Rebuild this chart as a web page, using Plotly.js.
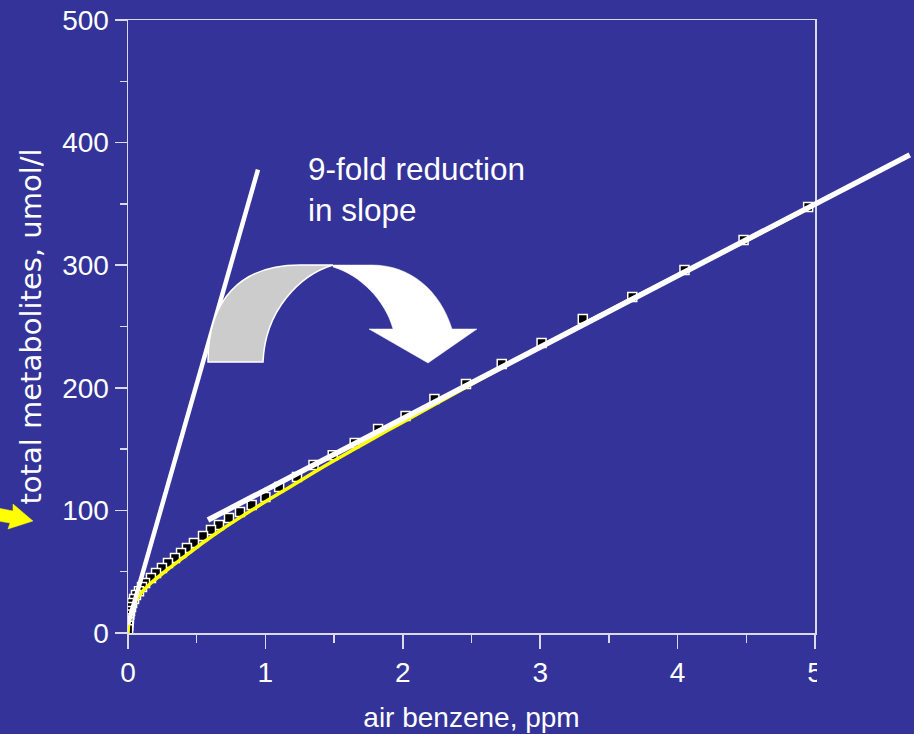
<!DOCTYPE html>
<html>
<head>
<meta charset="utf-8">
<script src="https://cdn.plot.ly/plotly-3.0.1.min.js"></script>
<style>html,body{margin:0;padding:0;background:#333399;}#chart{width:914px;height:734px;}</style>
</head>
<body>
<div id="chart"></div>
<script>
// ---- data ----
const pointsX = [4.95, 4.48, 4.05, 3.67, 3.31, 3.01, 2.72, 2.46, 2.23, 2.02, 1.82, 1.65, 1.49, 1.35, 1.23, 1.10, 1.00, 0.90, 0.815, 0.735, 0.662, 0.604, 0.546, 0.48, 0.429, 0.386, 0.342, 0.291, 0.247, 0.204, 0.167, 0.124, 0.102, 0.080, 0.058, 0.044, 0.030, 0.022, 0.015, 0.010, 0.007, 0.004, 0.002, 0.001];
const pointsY = [347.5, 320.6, 296.1, 274.1, 256.1, 236.5, 219.4, 203.1, 190.9, 177.0, 166.4, 155.0, 145.0, 137.0, 127.2, 119.0, 111.0, 104.4, 98.7, 93.8, 88.1, 84.0, 79.1, 73.4, 69.3, 65.3, 61.2, 57.1, 53.0, 48.9, 44.9, 40.8, 37.5, 34.0, 31.0, 27.7, 24.5, 21.2, 18.0, 15.0, 12.0, 9.0, 6.0, 3.0];

const fitCurveX = [0, 0.005, 0.015, 0.03, 0.06, 0.11, 0.17, 0.29, 0.42, 0.55, 0.69, 0.82, 0.94, 1.08, 1.25, 1.46, 1.75, 2.0, 2.5, 3.0, 3.5, 4.0, 4.5, 4.95];
const fitCurveY = [0, 8, 14, 20, 27, 34.5, 41, 52, 63, 74, 85, 94.5, 103, 112.5, 124, 138, 156.5, 172, 203, 233.5, 263, 292, 320, 346];

const steepLineX = [0, 0.946];
const steepLineY = [7, 378];

const shallowLineX = [0.582, 5.69];
const shallowLineY = [92.2, 390];

const xTickVals = [0, 1, 2, 3, 4, 5];
const xTickText = ['0', '1', '2', '3', '4', '5'];
const xMinorVals = [0.5, 1.5, 2.5, 3.5, 4.5];
const yTickVals = [0, 100, 200, 300, 400, 500];
const yTickText = ['0', '100', '200', '300', '400', '500'];
const yMinorVals = [50, 150, 250, 350, 450];

const xTitle = 'air benzene, ppm';
const yTitle = 'total metabolites, umol/l';
const noteText = '9-fold reduction<br>in slope';

// ---- layout geometry ----
const W = 914, H = 734;
const M = {l: 128, r: 0, t: 20, b: 101};
const plotW = W - M.l - M.r, plotH = H - M.t - M.b;
const xDomEnd = (815 - M.l) / plotW;           // main x axis ends at the box edge
const X_MAX = 5;
const BG = '#333399';
const LINE = 'rgba(235,235,250,0.9)';

// pixel -> paper helpers (for decorative shapes only)
const px = v => ((v - M.l) / plotW).toFixed(4);
const py = v => ((H - M.b - v) / plotH).toFixed(4);
function path(pts) {
  return pts.map(seg => {
    const cmd = seg[0];
    const c = seg.slice(1);
    const out = [];
    for (let i = 0; i < c.length; i += 2) out.push(px(c[i]) + ',' + py(c[i + 1]));
    return cmd + out.join(' ');
  }).join(' ') + ' Z';
}

const tickFont = {family: 'Liberation Sans, Arial, sans-serif', size: 28, color: '#ffffff'};

const traces = [
  {
    x: pointsX, y: pointsY, xaxis: 'x', yaxis: 'y',
    type: 'scatter', mode: 'markers',
    marker: {symbol: 'square', size: 9, color: '#000000', line: {color: '#ffffff', width: 1.5}},
    hoverinfo: 'skip'
  },
  {
    x: fitCurveX, y: fitCurveY, xaxis: 'x', yaxis: 'y',
    type: 'scatter', mode: 'lines', line: {color: '#ffff00', width: 3.5, shape: 'spline', smoothing: 0.8},
    hoverinfo: 'skip'
  },
  {
    x: steepLineX, y: steepLineY, xaxis: 'x', yaxis: 'y',
    type: 'scatter', mode: 'lines', line: {color: '#ffffff', width: 4.5},
    hoverinfo: 'skip'
  },
  {
    x: shallowLineX, y: shallowLineY, xaxis: 'x2', yaxis: 'y',
    type: 'scatter', mode: 'lines', line: {color: '#ffffff', width: 5.5},
    hoverinfo: 'skip'
  }
];

const layout = {
  width: W, height: H,
  paper_bgcolor: BG, plot_bgcolor: 'rgba(0,0,0,0)',
  margin: {l: M.l, r: M.r, t: M.t, b: M.b, pad: 0},
  showlegend: false,
  xaxis: {
    domain: [0, xDomEnd], range: [0, X_MAX], anchor: 'y',
    showline: true, mirror: true, linecolor: LINE, linewidth: 1.5,
    zeroline: false, showgrid: false,
    tickmode: 'array', tickvals: xTickVals, ticktext: xTickText,
    ticks: 'outside', ticklen: 14, tickwidth: 1.5, tickcolor: LINE,
    minor: {tickmode: 'array', tickvals: xMinorVals, ticks: 'outside', ticklen: 8, tickwidth: 1.5, tickcolor: LINE, showgrid: false},
    tickfont: tickFont,
    title: {text: xTitle, font: {family: 'Liberation Sans, Arial, sans-serif', size: 28, color: '#ffffff'}, standoff: 20}
  },
  xaxis2: {
    domain: [0, 1], range: [0, X_MAX / xDomEnd], anchor: 'y', visible: false
  },
  yaxis: {
    domain: [0, 1], range: [0, 500], anchor: 'x',
    showline: true, mirror: true, linecolor: LINE, linewidth: 1.5,
    zeroline: false, showgrid: false,
    tickmode: 'array', tickvals: yTickVals, ticktext: yTickText,
    ticks: 'outside', ticklen: 12, tickwidth: 1.5, tickcolor: LINE,
    minor: {tickmode: 'array', tickvals: yMinorVals, ticks: 'outside', ticklen: 7, tickwidth: 1.5, tickcolor: LINE, showgrid: false},
    tickfont: tickFont,
    title: {text: yTitle, font: {family: 'DejaVu Sans, sans-serif', size: 29, color: '#ffffff'}, standoff: 12}
  },
  shapes: [
    {type: 'path', xref: 'paper', yref: 'paper', layer: 'above',
     path: path([['M', 208, 362], ['C', 208, 300, 240, 265, 300, 265], ['L', 333, 265], ['C', 300, 275, 265, 310, 263, 362]]),
     fillcolor: '#cccccc', line: {color: '#ffffff', width: 1.5}},
    {type: 'path', xref: 'paper', yref: 'paper', layer: 'above',
     path: path([['M', 333, 265], ['L', 372, 265], ['C', 410, 265, 440, 290, 452, 329], ['L', 477, 329], ['L', 428, 363], ['L', 369, 329], ['L', 393, 329], ['C', 385, 300, 360, 275, 333, 267]]),
     fillcolor: '#ffffff', line: {color: '#ffffff', width: 0.5}},
    {type: 'path', xref: 'paper', yref: 'paper', layer: 'above',
     path: path([['M', -2, 508], ['L', 13, 511], ['L', 13, 504], ['L', 33, 521], ['L', 8, 529], ['L', 10, 523], ['L', -2, 521]]),
     fillcolor: '#ffff00', line: {color: '#ffff00', width: 0.5}},
    {type: 'rect', xref: 'paper', yref: 'paper', layer: 'above',
     x0: px(817), x1: px(860), y0: py(690), y1: py(640),
     fillcolor: BG, line: {width: 0}}
  ],
  annotations: [
    {xref: 'paper', yref: 'paper', x: px(306), y: py(149), xanchor: 'left', yanchor: 'top', align: 'left',
     showarrow: false, text: noteText,
     font: {family: 'Liberation Sans, Arial, sans-serif', size: 31.5, color: '#ffffff'}}
  ]
};

Plotly.newPlot('chart', traces, layout, {staticPlot: true, displayModeBar: false});
</script>
</body>
</html>
